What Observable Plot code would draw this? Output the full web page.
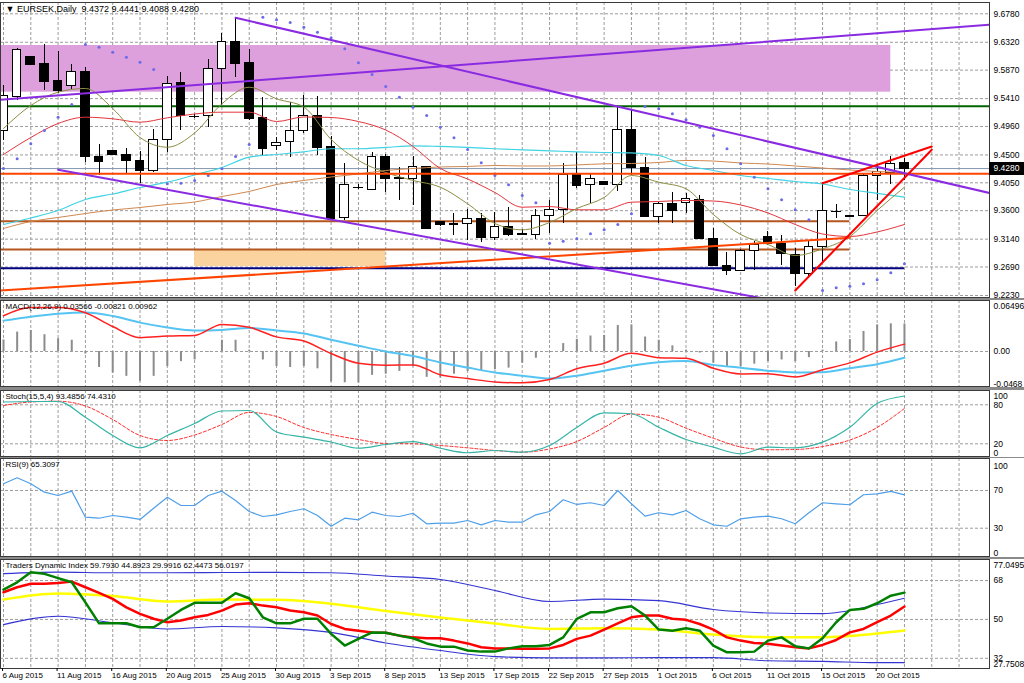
<!DOCTYPE html>
<html><head><meta charset="utf-8">
<script src="https://cdn.jsdelivr.net/npm/d3@7"></script>
<script src="https://cdn.jsdelivr.net/npm/@observablehq/plot@0.6"></script>
<style>
html,body{margin:0;padding:0;background:#fff;}
#chart{position:relative;width:1024px;height:683px;overflow:hidden;background:#fff;}
.sep{position:absolute;left:0;width:1024px;background:#8a8a8a;}
.badge{position:absolute;left:989px;width:35px;height:13px;background:#000;color:#fff;font:8.5px "Liberation Sans",Arial,sans-serif;line-height:13px;text-align:center;}
</style></head><body><div id="chart"></div><script>
// ---------- titles & labels ----------
const symbolTitle = "\u25BC EURSEK,Daily  9.4372 9.4441 9.4088 9.4280";
const macdTitle = "MACD(12,26,9) 0.03566 -0.00821 0.00962";
const stochTitle = "Stoch(15,5,4) 93.4856 74.4310";
const rsiTitle = "RSI(9) 65.3097";
const tdiTitle = "Traders Dynamic Index 59.7930 44.8923 29.9916 62.4473 56.0197";

const dateTickIdx = [0,4,8,12,16,20,24,28,32,36,40,44,48,52,56,60,64];
const dateTickLabels = ["6 Aug 2015","11 Aug 2015","16 Aug 2015","20 Aug 2015","25 Aug 2015","30 Aug 2015","3 Sep 2015","8 Sep 2015","13 Sep 2015","17 Sep 2015","22 Sep 2015","27 Sep 2015","1 Oct 2015","6 Oct 2015","11 Oct 2015","15 Oct 2015","20 Oct 2015"];

const priceTicks = [9.6780,9.6320,9.5870,9.5410,9.4960,9.4500,9.4050,9.3600,9.3140,9.2690,9.2230];
const priceTickText = ["9.6780","9.6320","9.5870","9.5410","9.4960","9.4500","9.4050","9.3600","9.3140","9.2690","9.2230"];
const lastPrice = 9.4280;
const lastPriceText = "9.4280";

const macdTicks = [0.06496, 0, -0.0468];
const macdTickText = ["0.06496","0.00","-0.0468"];
const stochTicks = [100, 80, 20, 0];
const stochTickText = ["100","80","20","0"];
const rsiTicks = [100, 70, 30, 0];
const rsiTickText = ["100","70","30","0"];
const tdiTicks = [77.0495, 68, 50, 32, 27.7508];
const tdiTickText = ["77.0495","68","50","32","27.7508"];

// ---------- candles (bar index 0 = 6 Aug 2015) ----------
const open = [9.4879,9.5444,9.6079,9.5972,9.5687,9.5606,9.5837,9.4475,9.4561,9.4507,
9.4399,9.4238,9.4734,9.5659,9.5121,9.5137,9.5892,9.6321,9.5989,9.5094,
9.4641,9.4706,9.4884,9.5126,9.4625,9.3479,9.3974,9.3937,9.4464,9.4120,
9.4104,9.4302,9.3414,9.3377,9.3377,9.3469,9.3162,9.3344,9.3223,9.3210,
9.3522,9.3614,9.4184,9.4007,9.4071,9.4018,9.4906,9.4286,9.3495,9.3711,
9.3727,9.3776,9.3146,9.2703,9.2622,9.2946,9.3172,9.3065,9.2892,9.2581,
9.3021,9.3579,9.3511,9.3506,9.4168,9.4212,9.4372];
const high = [9.5622,9.6215,9.6090,9.6279,9.6176,9.5961,9.5918,9.4669,9.4572,9.4600,
9.4561,9.4906,9.5767,9.5837,9.5154,9.6037,9.6457,9.6715,9.6199,9.5433,
9.4787,9.5352,9.5460,9.5444,9.4798,9.4357,9.4023,9.4545,9.4507,9.4302,
9.4475,9.4314,9.3425,9.3550,9.3614,9.3550,9.3566,9.3647,9.3291,9.3614,
9.3764,9.4357,9.4545,9.4196,9.4076,9.5271,9.5218,9.4454,9.3732,9.3889,
9.3873,9.3845,9.3317,9.2929,9.2973,9.3107,9.3269,9.3199,9.2984,9.3118,
9.4060,9.3700,9.3517,9.4196,9.4330,9.4475,9.4441];
const low = [9.4734,9.5380,9.5937,9.5541,9.5493,9.5552,9.4383,9.4168,9.4491,9.4205,
9.4044,9.4222,9.4545,9.4895,9.5089,9.4948,9.5299,9.5756,9.5057,9.4491,
9.4572,9.4464,9.4842,9.4491,9.3441,9.3441,9.3937,9.3926,9.3889,9.3764,
9.3684,9.3291,9.3344,9.3199,9.3118,9.3091,9.3118,9.3183,9.3199,9.3130,
9.3227,9.3398,9.3953,9.3711,9.4007,9.3915,9.4168,9.3490,9.3398,9.3388,
9.3550,9.3130,9.2698,9.2553,9.2618,9.2634,9.3038,9.2715,9.2375,9.2500,
9.2742,9.3469,9.3495,9.3506,9.3764,9.4023,9.4088];
const close = [9.5460,9.6199,9.5945,9.5675,9.5541,9.5837,9.4464,9.4383,9.4507,9.4399,
9.4238,9.4734,9.5649,9.5137,9.5113,9.5892,9.6321,9.5972,9.5073,9.4600,
9.4696,9.4879,9.5126,9.4616,9.3469,9.4007,9.3965,9.4475,9.4104,9.4112,
9.4302,9.3307,9.3361,9.3372,9.3469,9.3162,9.3333,9.3199,9.3207,9.3522,
9.3614,9.4184,9.3995,9.4104,9.4018,9.4906,9.4286,9.3495,9.3711,9.3587,
9.3781,9.3135,9.2703,9.2622,9.2946,9.3038,9.3054,9.2904,9.2581,9.3021,
9.3587,9.3571,9.3501,9.4168,9.4222,9.4357,9.4280];

// moving averages, read every second bar
const evenIdx = [0,2,4,6,8,10,12,14,16,18,20,22,24,26,28,30,32,34,36,38,40,42,44,46,48,50,52,54,56,58,60,62,64,66];
const maFast = [9.4928,9.5299,9.5514,9.5574,9.5250,9.4782,9.4625,9.4855,9.5326,9.5594,9.5407,9.5275,9.4750,9.4411,9.4217,9.4088,9.3980,9.3711,9.3393,9.3291,9.3409,9.3635,9.3813,9.4168,9.4060,9.3953,9.3538,9.3215,9.3054,9.2876,9.2984,9.3183,9.3603,9.3980];
const maMid = [9.4507,9.4782,9.5008,9.5110,9.5084,9.5029,9.5100,9.5162,9.5191,9.5191,9.5040,9.5113,9.5105,9.5040,9.4903,9.4637,9.4281,9.4112,9.3894,9.3656,9.3667,9.3614,9.3614,9.3737,9.3748,9.3765,9.3756,9.3692,9.3563,9.3377,9.3223,9.3183,9.3256,9.3377];
const maSlow = [9.3377,9.3482,9.3603,9.3781,9.3869,9.3974,9.4060,9.4176,9.4297,9.4464,9.4507,9.4551,9.4600,9.4600,9.4621,9.4648,9.4637,9.4621,9.4600,9.4583,9.4567,9.4551,9.4540,9.4532,9.4491,9.4330,9.4249,9.4168,9.4120,9.4071,9.4031,9.3942,9.3878,9.3818];
const maLong = [9.3312,9.3425,9.3490,9.3554,9.3611,9.3651,9.3700,9.3740,9.3829,9.3910,9.4023,9.4088,9.4144,9.4193,9.4249,9.4281,9.4306,9.4314,9.4330,9.4322,9.4322,9.4338,9.4357,9.4362,9.4378,9.4411,9.4402,9.4370,9.4354,9.4322,9.4289,9.4257,9.4233,9.4217];
const sar = [9.4281,9.4438,9.4680,9.4895,9.5110,9.5315,9.6284,9.6241,9.6160,9.6079,
9.5998,9.5880,9.4034,9.4044,9.4088,9.4168,9.4276,9.4475,9.4669,9.6725,
9.6683,9.6640,9.6564,9.6483,9.6392,9.6215,9.5989,9.5800,9.5606,9.5433,
9.5271,9.5137,9.4948,9.4777,9.4588,9.4373,9.4168,9.4018,9.3845,9.3727,
9.3075,9.3107,9.3146,9.3227,9.3291,9.3377,9.3550,9.5283,9.5246,9.5165,
9.5068,9.4948,9.4814,9.4600,9.4357,9.4141,9.3953,9.3776,9.3614,9.3453,
9.2311,9.2354,9.2380,9.2419,9.2484,9.2597,9.2742];

// drawn objects (bar index, price)
const zoneHighX = [-0.22, 65], zoneHighY = [9.5514, 9.6268];
const zoneLowX = [14, 28], zoneLowY = [9.2698, 9.2968];
const levelGreen = 9.5288, levelOrangeRed = 9.4196, levelBrownA = 9.3430, levelBrownB = 9.2973, levelNavy = 9.2671;
const levelBrownEnd = 62, levelNavyEnd = 66;
const trendUpX = [-0.22, 72.23], trendUpY = [9.5391, 9.6602];
const trendDownHiX = [17, 72.23], trendDownHiY = [9.6715, 9.3886];
const trendDownLoX = [4, 72.23], trendDownLoY = [9.4260, 9.1516];
const trendRiseX = [-0.22, 62], trendRiseY = [9.2311, 9.3162];
const wedgeLoX = [58, 68], wedgeLoY = [9.2311, 9.4583];
const wedgeHiX = [60, 68], wedgeHiY = [9.4044, 9.4637];

// ---------- MACD ----------
const macdHist = [0.0150,0.0252,0.0273,0.0218,0.0167,0.0146,-0.0033,-0.0208,-0.0280,-0.0323,
-0.0387,-0.0323,-0.0195,-0.0132,-0.0110,-0.0008,0.0146,0.0146,0.0018,-0.0110,
-0.0195,-0.0208,-0.0195,-0.0225,-0.0395,-0.0407,-0.0407,-0.0310,-0.0295,-0.0259,
-0.0199,-0.0336,-0.0344,-0.0295,-0.0259,-0.0259,-0.0238,-0.0216,-0.0152,-0.0088,
-0.0008,0.0103,0.0158,0.0201,0.0209,0.0337,0.0346,0.0188,0.0146,0.0073,
0.0018,-0.0020,-0.0152,-0.0195,-0.0195,-0.0165,-0.0132,-0.0110,-0.0132,-0.0080,
0.0018,0.0124,0.0155,0.0261,0.0346,0.0359,0.0357];
const macdLine = [0.0465,0.0571,0.0571,0.0503,0.0324,0.0180,0.0200,0.0209,0.0352,0.0314,0.0190,0.0137,-0.0027,-0.0152,-0.0178,-0.0174,-0.0301,-0.0352,-0.0396,-0.0407,-0.0365,-0.0225,-0.0152,-0.0024,-0.0080,-0.0088,-0.0218,-0.0292,-0.0289,-0.0331,-0.0238,-0.0148,-0.0008,0.0096];
const macdSignal = [0.0401,0.0452,0.0490,0.0507,0.0461,0.0375,0.0312,0.0273,0.0280,0.0305,0.0273,0.0235,0.0152,0.0075,0.0001,-0.0059,-0.0142,-0.0209,-0.0272,-0.0314,-0.0352,-0.0314,-0.0250,-0.0186,-0.0139,-0.0123,-0.0174,-0.0212,-0.0250,-0.0272,-0.0269,-0.0218,-0.0165,-0.0082];

// ---------- Stochastic ----------
const stochMain = [84.3,85.1,85.1,60.9,32.8,13.8,32.8,51.2,70.5,71.2,38.2,30.2,22.8,13.2,18.9,23.5,13.2,6.2,9.7,7.1,17.4,45.1,67.7,66.2,45.5,26.6,14.8,4.6,14.8,13.8,22.5,45.5,82.0,93.5];
const stochSignal = [78.9,84.3,85.5,78.2,57.4,32.8,25.1,33.5,49.7,68.2,62.0,45.1,34.3,26.6,20.5,20.0,17.4,13.8,9.7,7.1,12.0,23.5,45.1,65.8,60.9,44.0,28.6,15.1,10.8,11.2,15.8,25.8,45.1,74.4];

// ---------- RSI ----------
const rsi = [77.1,83.5,77.1,68.2,64.7,69.3,41.7,40.6,43.5,41.7,
39.3,51.2,62.9,54.1,54.1,64.7,69.3,59.4,47.7,42.4,
44.2,47.7,50.6,43.5,32.1,40.6,38.9,47.0,43.5,42.4,
45.9,34.7,35.3,35.3,38.2,33.6,38.2,36.4,36.4,44.2,
47.7,60.2,55.2,57.0,54.1,70.0,55.9,42.8,46.4,44.2,
48.8,40.0,33.6,32.1,40.0,41.7,42.8,40.0,34.7,46.4,
57.0,55.9,54.9,65.5,66.5,69.0,65.3];

// ---------- Traders Dynamic Index ----------
const tdiBandIdx = [0,4,8,12,16,20,24,28,32,36,40,44,48,52,56,60,64,66];
const tdiUpper = [71.2,71.9,71.6,71.6,71.7,71.8,71.6,70.1,68.5,63.4,58.3,59.4,58.7,54.6,53.0,52.7,56.9,59.8];
const tdiLower = [47.6,51.5,48.5,45.6,46.7,46.1,44.0,39.1,35.6,32.8,32.2,32.2,32.3,32.3,30.9,30.6,30.0,30.0];
const tdiBase = [59.2,62.0,60.8,58.3,59.2,59.1,57.3,53.9,50.9,48.1,45.6,45.9,45.3,43.0,41.8,41.8,43.5,44.9];
const tdiPrice = [63.8,67.2,71.8,71.1,69.1,67.2,57.9,48.2,48.2,48.2,
46.4,46.4,50.3,54.4,57.7,57.7,57.7,62.1,59.8,51.0,
48.2,48.2,50.3,50.3,43.3,37.9,41.0,44.0,43.8,42.5,
41.3,38.9,37.4,37.4,35.6,35.1,35.1,36.6,37.6,37.6,
38.2,41.7,50.3,53.3,53.3,55.2,56.1,51.8,45.3,44.8,
45.9,44.8,37.9,34.8,34.8,35.1,40.2,41.7,37.6,36.6,
41.3,48.7,54.4,54.9,57.5,61.0,62.4];
const tdiSignal = [62.6,64.9,66.5,66.5,66.9,67.5,64.9,62.3,59.5,55.6,
52.6,50.3,48.7,49.5,51.0,52.1,54.1,56.9,57.5,56.4,
55.6,54.1,53.3,51.8,47.9,45.6,44.8,44.0,43.8,42.5,
41.7,41.3,41.3,40.2,38.9,37.1,36.6,36.6,36.4,36.4,
36.6,38.2,41.0,42.5,45.3,48.2,51.0,51.8,51.8,50.3,
49.8,47.9,45.3,41.7,40.2,39.1,38.7,37.9,37.1,36.6,
38.2,40.5,44.0,45.6,48.7,51.8,56.0];

// ---------- build ----------
const X_DOMAIN = [-0.22, 72.23];
const FONT = '"Liberation Sans",Arial,sans-serif';
const GRID = {stroke: "#9c9c9c", strokeDasharray: "3,2", strokeWidth: 1};
const gridIdx = d3.range(0, 71, 2);
const barIdx = d3.range(open.length);
const pts = (xs, ys) => xs.map((x, k) => ({x, y: ys[k]}));
const series = (vals) => vals.map((y, x) => ({x, y}));

function yLabels(vals, texts, domain) {
  const lo = d3.min(domain), hi = d3.max(domain);
  const rows = vals.map((v, k) => ({v, t: texts[k]}));
  const o = {frameAnchor: "right", y: "v", text: "t", textAnchor: "start", dx: 4, fill: "#000", fontSize: 8.5};
  return [
    Plot.text(rows.filter(r => r.v !== lo && r.v !== hi), {...o, lineAnchor: "middle"}),
    Plot.text(rows.filter(r => r.v === hi), {...o, lineAnchor: "top", dy: 1}),
    Plot.text(rows.filter(r => r.v === lo), {...o, lineAnchor: "bottom", dy: -1})
  ];
}
function title(t, size) {
  return Plot.text([t], {frameAnchor: "top-left", dx: 5, dy: 3, lineAnchor: "top", textAnchor: "start", fill: "#000", fontSize: size || 8});
}
function panel({height, marginBottom = 0, yDomain, yRange, marks}) {
  return Plot.plot({
    width: 1024, height, marginLeft: 0, marginRight: 35, marginTop: 0, marginBottom,
    x: {domain: X_DOMAIN, axis: null, label: null},
    y: {domain: yDomain, range: yRange, axis: null, label: null},
    style: {overflow: "visible", background: "transparent", fontFamily: FONT, fontSize: "8px", color: "#000"},
    marks
  });
}
const chart = document.getElementById("chart");
function place(node, top) {
  node.style.position = "absolute"; node.style.left = "0px"; node.style.top = top + "px";
  chart.appendChild(node);
}
function sep(top, h) {
  const d = document.createElement("div"); d.className = "sep";
  d.style.top = top + "px"; d.style.height = h + "px"; chart.appendChild(d);
}

// main panel
const bars = barIdx.map(i => ({i, o: open[i], h: high[i], l: low[i], c: close[i]}));
const bodyOpt = {x1: d => d.i - 0.5, x2: d => d.i + 0.5, y1: "o", y2: "c", stroke: "#000", insetLeft: 2.5, insetRight: 2.5, shapeRendering: "crispEdges"};
const mainDomain = [9.21975, 9.69625];
const mainPlot = panel({
  height: 295, yDomain: mainDomain, yRange: [295, 0],
  marks: [
    Plot.ruleX(gridIdx, GRID),
    Plot.ruleY(priceTicks, GRID),
    Plot.rect([{x1: zoneHighX[0], x2: zoneHighX[1], y1: zoneHighY[0], y2: zoneHighY[1]}], {x1: "x1", x2: "x2", y1: "y1", y2: "y2", fill: "#dda0dd"}),
    Plot.rect([{x1: zoneLowX[0], x2: zoneLowX[1], y1: zoneLowY[0], y2: zoneLowY[1]}], {x1: "x1", x2: "x2", y1: "y1", y2: "y2", fill: "#fbd39e"}),
    Plot.ruleY([lastPrice], {stroke: "#8397b0", strokeWidth: 1}),
    Plot.ruleY([levelGreen], {stroke: "#006400", strokeWidth: 2}),
    Plot.ruleY([{y: levelBrownA, x1: X_DOMAIN[0], x2: levelBrownEnd}, {y: levelBrownB, x1: X_DOMAIN[0], x2: levelBrownEnd}], {y: "y", x1: "x1", x2: "x2", stroke: "#b5561e", strokeWidth: 2}),
    Plot.ruleY([{y: levelNavy, x1: X_DOMAIN[0], x2: levelNavyEnd}], {y: "y", x1: "x1", x2: "x2", stroke: "#000080", strokeWidth: 2}),
    Plot.ruleX(bars, {x: "i", y1: "l", y2: "h", stroke: "#000", shapeRendering: "crispEdges"}),
    Plot.rect(bars.filter(d => d.c >= d.o), {...bodyOpt, fill: "#fff"}),
    Plot.rect(bars.filter(d => d.c < d.o), {...bodyOpt, fill: "#000"}),
    Plot.line(pts(evenIdx, maLong), {x: "x", y: "y", stroke: "#d08850", strokeWidth: 1, curve: "monotone-x"}),
    Plot.line(pts(evenIdx, maSlow), {x: "x", y: "y", stroke: "#3fd3e3", strokeWidth: 1.2, curve: "monotone-x"}),
    Plot.line(pts(evenIdx, maMid), {x: "x", y: "y", stroke: "#e3353c", strokeWidth: 1, curve: "monotone-x"}),
    Plot.line(pts(evenIdx, maFast), {x: "x", y: "y", stroke: "#8d8d45", strokeWidth: 1, curve: "monotone-x"}),
    Plot.dot(series(sar), {x: "x", y: "y", r: 1.5, fill: "#6b6be8", stroke: "none"}),
    Plot.ruleY([levelOrangeRed], {stroke: "#ff4500", strokeWidth: 2}),
    Plot.line(pts(trendRiseX, trendRiseY), {x: "x", y: "y", stroke: "#ff4500", strokeWidth: 2, clip: true}),
    Plot.line(pts(trendUpX, trendUpY), {x: "x", y: "y", stroke: "#8a2be2", strokeWidth: 2, clip: true}),
    Plot.line(pts(trendDownHiX, trendDownHiY), {x: "x", y: "y", stroke: "#8a2be2", strokeWidth: 2, clip: true}),
    Plot.line(pts(trendDownLoX, trendDownLoY), {x: "x", y: "y", stroke: "#8a2be2", strokeWidth: 2, clip: true}),
    Plot.line(pts(wedgeLoX, wedgeLoY), {x: "x", y: "y", stroke: "#ff0000", strokeWidth: 2, clip: true}),
    Plot.line(pts(wedgeHiX, wedgeHiY), {x: "x", y: "y", stroke: "#ff0000", strokeWidth: 2, clip: true}),
    Plot.frame({stroke: "#3a3a3a"}),
    ...yLabels(priceTicks, priceTickText, mainDomain),
    title(symbolTitle, 9)
  ]
});
place(mainPlot, 2);
const badge = document.createElement("div");
badge.className = "badge"; badge.textContent = lastPriceText;
badge.style.top = (2 + mainPlot.scale("y").apply(lastPrice) - 6.5) + "px";
chart.appendChild(badge);

// MACD
const macdDomain = [-0.0468, 0.06496];
place(panel({
  height: 86, yDomain: macdDomain, yRange: [87, 1],
  marks: [
    Plot.ruleX(gridIdx, GRID),
    Plot.ruleY([0], GRID),
    Plot.ruleX(series(macdHist), {x: "x", y1: 0, y2: "y", stroke: "#8c8c8c", strokeWidth: 2, clip: true}),
    Plot.line(pts(evenIdx, macdSignal), {x: "x", y: "y", stroke: "#55c4f2", strokeWidth: 2, curve: "monotone-x", clip: true}),
    Plot.line(pts(evenIdx, macdLine), {x: "x", y: "y", stroke: "#ff2020", strokeWidth: 1.5, curve: "monotone-x", clip: true}),
    Plot.frame({stroke: "#3a3a3a"}),
    ...yLabels(macdTicks, macdTickText, macdDomain),
    title(macdTitle)
  ]
}), 300);

// Stochastic
const stochDomain = [0, 100];
place(panel({
  height: 66, yDomain: stochDomain, yRange: [66.3, 1.3],
  marks: [
    Plot.ruleX(gridIdx, GRID),
    Plot.ruleY([80, 20], GRID),
    Plot.line(pts(evenIdx, stochSignal), {x: "x", y: "y", stroke: "#ff2a2a", strokeWidth: 1, strokeDasharray: "3,2", curve: "monotone-x", clip: true}),
    Plot.line(pts(evenIdx, stochMain), {x: "x", y: "y", stroke: "#35b5a6", strokeWidth: 1.2, curve: "monotone-x", clip: true}),
    Plot.frame({stroke: "#3a3a3a"}),
    ...yLabels(stochTicks, stochTickText, stochDomain),
    title(stochTitle)
  ]
}), 390);

// RSI
const rsiDomain = [0, 100];
place(panel({
  height: 98, yDomain: rsiDomain, yRange: [98, 3.7],
  marks: [
    Plot.ruleX(gridIdx, GRID),
    Plot.ruleY([70, 30], GRID),
    Plot.line(series(rsi), {x: "x", y: "y", stroke: "#4f9fe8", strokeWidth: 1.2, clip: true}),
    Plot.frame({stroke: "#3a3a3a"}),
    ...yLabels(rsiTicks, rsiTickText, rsiDomain),
    title(rsiTitle)
  ]
}), 458);

// TDI + date axis
const tdiDomain = [27.7508, 77.0495];
const dateMap = new Map(dateTickIdx.map((d, k) => [d, dateTickLabels[k]]));
place(panel({
  height: 124, marginBottom: 15, yDomain: tdiDomain, yRange: [108, 1.5],
  marks: [
    Plot.ruleX(gridIdx, GRID),
    Plot.ruleY([68, 50, 32], GRID),
    Plot.line(pts(tdiBandIdx, tdiUpper), {x: "x", y: "y", stroke: "#3434d2", strokeWidth: 1.1, curve: "monotone-x", clip: true}),
    Plot.line(pts(tdiBandIdx, tdiLower), {x: "x", y: "y", stroke: "#3434d2", strokeWidth: 1.1, curve: "monotone-x", clip: true}),
    Plot.line(pts(tdiBandIdx, tdiBase), {x: "x", y: "y", stroke: "#ffff00", strokeWidth: 2.5, curve: "monotone-x", clip: true}),
    Plot.line(series(tdiSignal), {x: "x", y: "y", stroke: "#ff0000", strokeWidth: 2.5, clip: true}),
    Plot.line(series(tdiPrice), {x: "x", y: "y", stroke: "#008000", strokeWidth: 2.5, clip: true}),
    Plot.frame({stroke: "#3a3a3a"}),
    ...yLabels(tdiTicks, tdiTickText, tdiDomain),
    Plot.axisX({anchor: "bottom", ticks: dateTickIdx, tickFormat: d => dateMap.get(d), tickSize: 3, tickPadding: 1, textAnchor: "start", dx: -1, label: null, fill: "#000", stroke: "#000", fontSize: 8}),
    title(tdiTitle)
  ]
}), 559);

sep(297.5, 2.5);
sep(386.5, 3);
sep(456.5, 1.5);
sep(556.5, 2.5);
</script></body></html>
